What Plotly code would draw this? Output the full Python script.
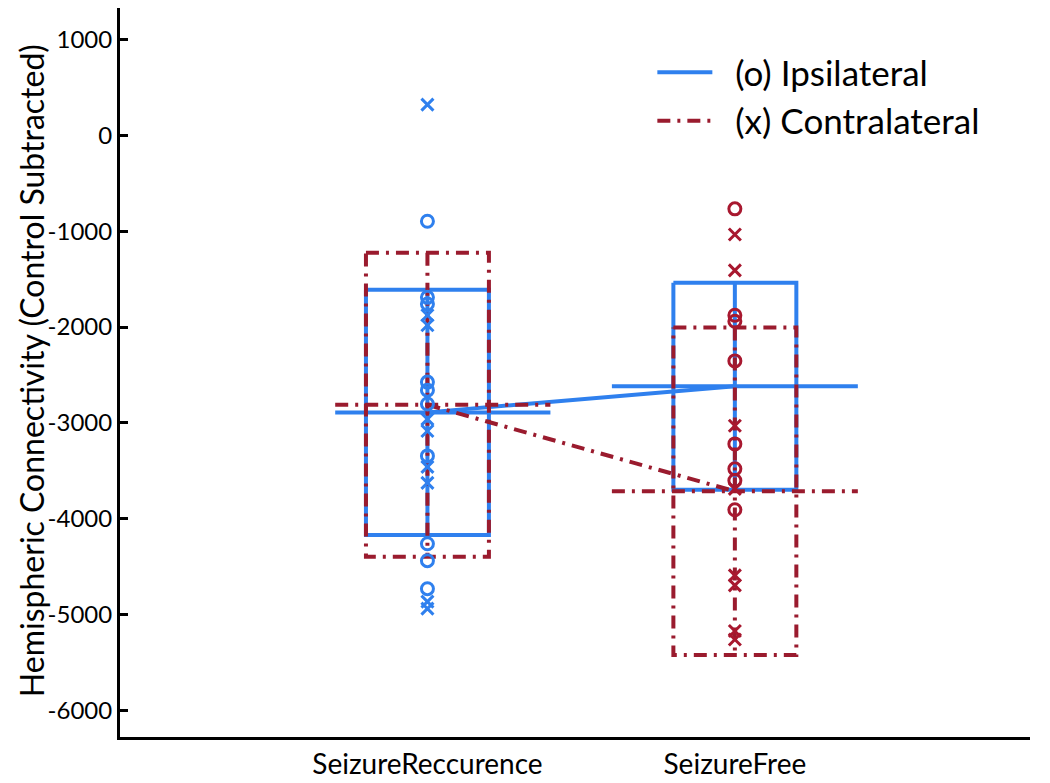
import plotly.graph_objects as go

# group positions and labels
groups = ["SeizureReccurence", "SeizureFree"]
group_x = [1, 2]

# mean and standard deviation per group
ipsi_mean = [-2890, -2617]
ipsi_sd = [1280, 1080]
contra_mean = [-2810, -3713]
contra_sd = [1585, 1708]

# individual subjects, SeizureReccurence group
rec_ipsi = [-896, -1690, -1760, -2574, -2658, -2803, -3344, -4260, -4437, -4729]
rec_contra = [320, -1877, -1981, -2960, -3084, -3458, -3625, -4864, -4937]

# individual subjects, SeizureFree group
free_ipsi = [-767, -1877, -1940, -2353, -3219, -3479, -3601, -3906]
free_contra = [-1034, -1409, -3029, -3688, -4590, -4694, -5171, -5259]

y_ticks = [1000, 0, -1000, -2000, -3000, -4000, -5000, -6000]

BLUE = "#2f80ee"
RED = "#9a1b2e"
RED_PT = "#a8182f"
BOX_HALF = 0.2
MEAN_LEFT = [0.3, 0.4]   # how far each mean bar reaches left / right of the group
MEAN_RIGHT = [0.4, 0.4]
DASHDOT = "13px,7px,3px,7px"

fig = go.Figure()


def add_group(i, mean, sd, color, dash):
    xc = group_x[i]
    top = mean + sd
    bot = mean - sd
    line = dict(color=color, width=4, dash=dash)
    fig.add_trace(go.Scatter(
        x=[xc - BOX_HALF, xc + BOX_HALF, xc + BOX_HALF, xc - BOX_HALF, xc - BOX_HALF],
        y=[top, top, bot, bot, top],
        mode="lines", line=line, showlegend=False, hoverinfo="skip"))
    fig.add_trace(go.Scatter(
        x=[xc, xc], y=[top, bot],
        mode="lines", line=line, showlegend=False, hoverinfo="skip"))
    fig.add_trace(go.Scatter(
        x=[xc - MEAN_LEFT[i], xc + MEAN_RIGHT[i]], y=[mean, mean],
        mode="lines", line=line, showlegend=False, hoverinfo="skip"))


# ipsilateral (blue, solid)
for i in range(len(group_x)):
    add_group(i, ipsi_mean[i], ipsi_sd[i], BLUE, "solid")
fig.add_trace(go.Scatter(
    x=group_x, y=ipsi_mean, mode="lines",
    line=dict(color=BLUE, width=4), name="\u00a0\u00a0(o) Ipsilateral"))

# contralateral (red, dash-dot)
for i in range(len(group_x)):
    add_group(i, contra_mean[i], contra_sd[i], RED, DASHDOT)
fig.add_trace(go.Scatter(
    x=group_x, y=contra_mean, mode="lines",
    line=dict(color=RED, width=4, dash=DASHDOT), name="\u00a0\u00a0(x) Contralateral"))


def add_points(xc, vals, symbol, color):
    fig.add_trace(go.Scatter(
        x=[xc] * len(vals), y=vals, mode="markers",
        marker=dict(symbol=symbol, size=12, color=color,
                    line=dict(color=color, width=3)),
        showlegend=False, hoverinfo="y"))


add_points(group_x[0], rec_ipsi, "circle-open", BLUE)
add_points(group_x[0], rec_contra, "x-thin-open", BLUE)
add_points(group_x[1], free_ipsi, "circle-open", RED_PT)
add_points(group_x[1], free_contra, "x-thin-open", RED_PT)

# page body has an 8px margin, so the margins are trimmed by that much
fig.update_layout(
    width=1050, height=783,
    margin=dict(l=112, r=28, t=0, b=54),
    paper_bgcolor="white", plot_bgcolor="white",
    font=dict(family="Lato", color="black"),
    legend=dict(x=0.585, y=0.952, xanchor="left", yanchor="top",
                font=dict(size=35), itemwidth=55,
                bgcolor="rgba(0,0,0,0)", tracegroupgap=0),
)
# y title as an annotation so it can sit right against the tick labels
fig.add_annotation(
    text="Hemispheric Connectivity (Control Subtracted)",
    xref="paper", yref="paper", x=-0.098, y=0.503,
    xanchor="center", yanchor="middle", textangle=-90,
    showarrow=False, font=dict(size=32))
fig.update_xaxes(
    range=[0, 2.96], tickvals=group_x, ticktext=groups,
    showline=True, linecolor="black", linewidth=3,
    showgrid=False, zeroline=False, ticks="",
    tickfont=dict(size=28))
fig.update_yaxes(
    range=[-6276, 1328], tickvals=y_ticks, ticktext=[str(v) for v in y_ticks],
    showline=True, linecolor="black", linewidth=3,
    showgrid=False, zeroline=False,
    ticks="inside", ticklen=8, tickwidth=2.5, tickcolor="black",
    tickfont=dict(size=24))

fig.write_html("out.html")
